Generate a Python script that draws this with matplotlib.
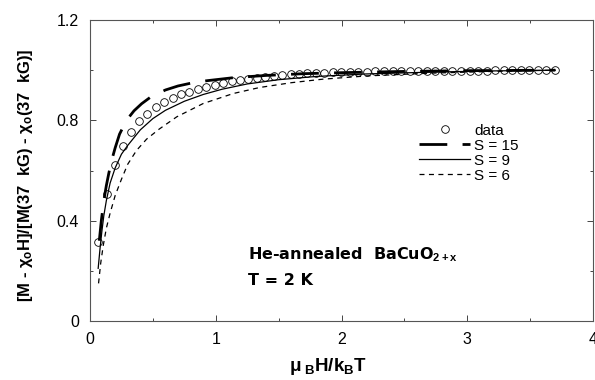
import matplotlib
matplotlib.use("Agg")
from matplotlib import pyplot as plt

plt.rcParams['font.family'] = ['Liberation Sans', 'DejaVu Sans']
plt.rcParams['mathtext.fontset'] = 'custom'
plt.rcParams['mathtext.rm'] = 'Liberation Sans'
plt.rcParams['mathtext.it'] = 'Liberation Sans:italic'
plt.rcParams['mathtext.bf'] = 'Liberation Sans:bold'
plt.rcParams['lines.scale_dashes'] = False

data_x = [0.061, 0.137, 0.201, 0.265, 0.328, 0.392, 0.455, 0.524, 0.590, 0.657,
          0.724, 0.791, 0.858, 0.925, 0.992, 1.059, 1.126, 1.193, 1.260, 1.327,
          1.394, 1.461, 1.528, 1.595, 1.662, 1.729, 1.796, 1.863, 1.930, 1.998,
          2.066, 2.134, 2.202, 2.270, 2.338, 2.406, 2.474, 2.542, 2.610, 2.678,
          2.746, 2.814, 2.882, 2.950, 3.018, 3.086, 3.154, 3.222, 3.290, 3.358,
          3.426, 3.494, 3.562, 3.630, 3.698]
data_y = [0.314, 0.505, 0.623, 0.699, 0.752, 0.796, 0.827, 0.854, 0.874, 0.890,
          0.903, 0.914, 0.924, 0.933, 0.942, 0.950, 0.955, 0.960, 0.966, 0.970,
          0.974, 0.977, 0.980, 0.983, 0.985, 0.987, 0.988, 0.990, 0.992, 0.993,
          0.993, 0.994, 0.994, 0.995, 0.995, 0.995, 0.996, 0.996, 0.996, 0.997,
          0.997, 0.997, 0.997, 0.998, 0.998, 0.998, 0.998, 0.999, 0.999, 0.999,
          0.999, 0.999, 1.000, 1.000, 1.000]

# model curves
s15_x = [0.074, 0.09, 0.11, 0.13, 0.15, 0.175, 0.20, 0.235, 0.29, 0.35, 0.41, 0.48,
         0.60, 0.70, 0.81, 0.93, 1.14, 1.40, 1.70, 2.00, 2.50, 3.00, 3.70]
s15_y = [0.32, 0.40, 0.48, 0.54, 0.59, 0.645, 0.69, 0.745, 0.80, 0.838, 0.866, 0.892,
         0.921, 0.937, 0.949, 0.958, 0.970, 0.979, 0.986, 0.990, 0.995, 0.998, 1.0]

s9_x = [0.065, 0.08, 0.095, 0.11, 0.13, 0.16, 0.20, 0.25, 0.30, 0.40, 0.50, 0.60,
        0.75, 0.90, 1.05, 1.25, 1.50, 1.80, 2.20, 2.70, 3.20, 3.70]
s9_y = [0.21, 0.29, 0.36, 0.42, 0.48, 0.55, 0.61, 0.665, 0.70, 0.762, 0.807, 0.840,
        0.876, 0.903, 0.924, 0.945, 0.962, 0.975, 0.985, 0.992, 0.997, 1.0]

s6_x = [0.068, 0.085, 0.105, 0.13, 0.16, 0.20, 0.25, 0.30, 0.37, 0.45, 0.55, 0.69,
        0.90, 1.14, 1.35, 1.60, 1.85, 2.20, 2.70, 3.20, 3.70]
s6_y = [0.15, 0.23, 0.30, 0.37, 0.43, 0.50, 0.565, 0.625, 0.68, 0.725, 0.765, 0.814,
        0.867, 0.907, 0.931, 0.950, 0.964, 0.977, 0.988, 0.995, 1.0]

xticks = [0, 1, 2, 3, 4]
yticks = [0, 0.4, 0.8, 1.2]
ytick_labels = ['0', '0.4', '0.8', '1.2']

fig = plt.figure(figsize=(5.95, 3.8), dpi=100)
ax = fig.add_axes([90/595, 1-321/380, 503/595, 301/380])

ax.plot(s15_x, s15_y, color='black', lw=2.0, dashes=(20, 11), label='S = 15')
ax.plot(s9_x, s9_y, color='black', lw=0.9, label='S = 9')
ax.plot(s6_x, s6_y, color='black', lw=0.9, dashes=(3.6, 3.2), label='S = 6')
ax.plot(data_x, data_y, 'o', ms=5.5, mfc='none', mec='black', mew=0.6,
        label='data', zorder=3)

ax.set_xlim(0, 4)
ax.set_ylim(0, 1.2)
ax.set_xticks(xticks, [str(t) for t in xticks])
ax.set_xticks([0.5, 1.5, 2.5, 3.5], minor=True)
ax.set_yticks(yticks, ytick_labels)
ax.set_yticks([0.2, 0.6, 1.0], minor=True)
ax.tick_params(which='both', direction='in', top=True, right=True, width=0.7,
               color='#444444')
ax.tick_params(which='major', length=4, labelsize=11.5, pad=8)
ax.tick_params(which='minor', length=2.5)
for sp in ax.spines.values():
    sp.set_linewidth(0.8)
    sp.set_color('#555555')

ax.set_xlabel(r'$\mathbf{\mu}_{\ \mathbf{B}}\mathbf{H/k}_{\mathbf{B}}\mathbf{T}$',
              fontsize=13.5)
ax.xaxis.set_label_coords(0.473, -0.115)
ax.set_ylabel('$\\mathbf{[M\\ \u2010\\ \\chi}_{\\mathbf{o}}\\mathbf{H]/[M(37\\ \\ kG)\\ \u2010\\ \\chi}'
              '_{\\mathbf{o}}\\mathbf{(37\\ \\ kG)]}$', fontsize=12)
ax.yaxis.set_label_coords(-0.11, 0.483)

hs, ls = ax.get_legend_handles_labels()
order = [3, 0, 1, 2]
ax.legend([hs[i] for i in order], [ls[i] for i in order], loc='upper left',
          bbox_to_anchor=(0.655, 0.655), frameon=False, fontsize=11,
          handlelength=3.3, handletextpad=0.3, labelspacing=0.06,
          borderpad=0, borderaxespad=0, numpoints=1)

ax.text(1.254, 0.247, r'He-annealed  BaCuO$_{\mathbf{2+x}}$', fontsize=11.5,
        fontweight='bold', family=['DejaVu Sans'], ha='left', va='baseline')
ax.text(1.254, 0.143, 'T = 2 K', fontsize=11.5, fontweight='bold',
        family=['DejaVu Sans'], ha='left', va='baseline')

fig.savefig('out.png', dpi=100)
